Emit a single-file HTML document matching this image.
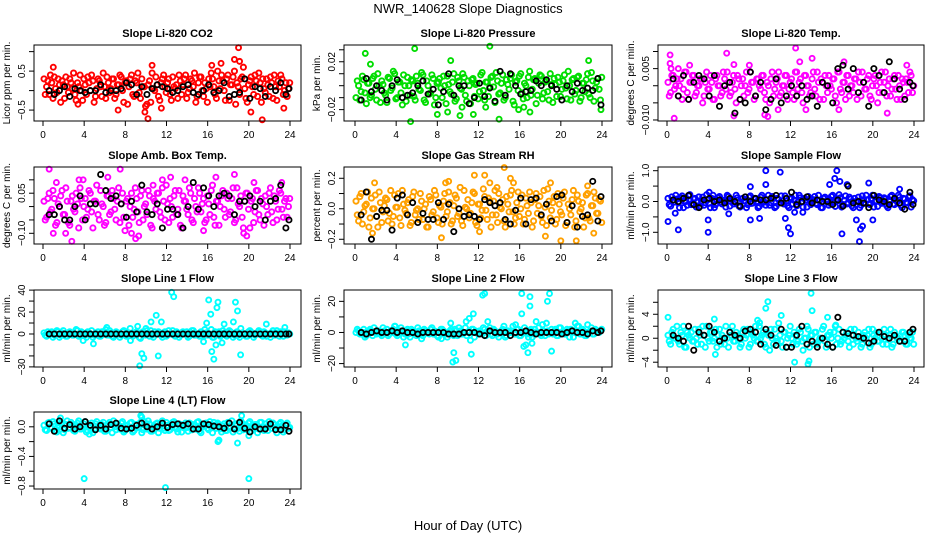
<!DOCTYPE html>
<html><head><meta charset="utf-8"><style>
body{margin:0;background:#fff;}
svg{display:block;font-family:"Liberation Sans",sans-serif;}
</style></head><body>
<svg id="chart" width="936" height="540" viewBox="0 0 936 540">
<text x="468" y="13" text-anchor="middle" font-size="13">NWR_140628  Slope Diagnostics</text>
<text x="468" y="530" text-anchor="middle" font-size="13">Hour of Day (UTC)</text>
</svg>
<script>
const hoursA = [0.1,0.35,0.6,0.85,1.1,1.35,1.6,1.85,2.1,2.35,2.6,2.85,3.1,3.35,3.6,3.85,4.1,4.35,4.6,4.85,5.1,5.35,5.6,5.85,6.1,6.35,6.6,6.85,7.1,7.35,7.6,7.85,8.1,8.35,8.6,8.85,9.1,9.35,9.6,9.85,10.1,10.35,10.6,10.85,11.1,11.35,11.6,11.85,12.1,12.35,12.6,12.85,13.1,13.35,13.6,13.85,14.1,14.35,14.6,14.85,15.1,15.35,15.6,15.85,16.1,16.35,16.6,16.85,17.1,17.35,17.6,17.85,18.1,18.35,18.6,18.85,19.1,19.35,19.6,19.85,20.1,20.35,20.6,20.85,21.1,21.35,21.6,21.85,22.1,22.35,22.6,22.85,23.1,23.35,23.6,23.85];
const hoursBlack = [0.6,1.1,1.6,2.1,2.6,3.1,3.6,4.1,4.6,5.1,5.6,6.1,6.6,7.1,7.6,8.1,8.6,9.1,9.6,10.1,10.6,11.1,11.6,12.1,12.6,13.1,13.6,14.1,14.6,15.1,15.6,16.1,16.6,17.1,17.6,18.1,18.6,19.1,19.6,20.1,20.6,21.1,21.6,22.1,22.6,23.1,23.6,23.9];
const xTicks = [0,4,8,12,16,20,24];

const co2A = [0.3,0.1,-0.1,0.2,0.35,-0.05,0.15,0.25,-0.2,0.1,0.3,0.05,-0.1,0.2,0.4,-0.25,0.15,0.35,0.0,0.25,-0.15,0.3,0.1,0.45,-0.2,0.2,0.05,0.3,-0.1,0.15,0.35,-0.3,0.25,0.1,0.4,-0.15,0.2,-0.05,0.3,0.1,-0.35,0.25,0.45,0.0,0.15,-0.25,0.3,0.1,0.2,-0.1,0.35,0.05,-0.2,0.25,0.15,0.4,-0.05,0.3,0.1,-0.3,0.2,0.35,-0.15,0.05,0.3,0.45,0.1,-0.2,0.25,0.4,0.0,0.3,-0.25,0.15,0.5,0.2,-0.1,0.35,0.05,-0.3,0.25,0.1,0.4,-0.15,0.2,0.3,-0.05,0.15,0.35,-0.2,0.1,0.25,0.4,-0.1,0.2,0.05];
const co2B = [-0.1,0.25,0.4,-0.2,0.05,0.3,-0.3,0.15,0.35,-0.05,0.2,0.45,-0.25,0.1,0.0,0.3,-0.1,0.2,0.4,-0.3,0.05,0.25,-0.15,0.1,0.35,-0.05,0.3,-0.2,0.15,0.4,0.0,0.2,-0.35,0.3,-0.1,0.25,0.45,-0.2,0.1,-0.4,0.15,-0.3,0.05,0.35,-0.15,0.2,0.4,-0.05,0.3,-0.25,0.1,0.15,0.4,-0.1,0.3,-0.2,0.05,0.25,0.45,-0.15,0.35,0.0,0.2,-0.3,0.1,0.3,-0.1,0.5,0.05,0.25,-0.25,0.4,0.15,0.35,-0.35,0.1,0.3,0.6,-0.2,0.15,0.35,-0.1,0.25,0.45,-0.3,0.05,0.3,-0.15,0.2,0.4,-0.25,0.1,0.3,0.0,-0.15,0.2];
const co2OutX = [1.0,3.4,7.3,9.9,10.2,10.6,11.5,16.4,17.3,18.6,19.0,19.1,20.2,21.3,23.4];
const co2OutY = [0.6,-0.35,-0.5,-0.55,-0.72,0.65,-0.45,0.65,0.7,0.8,1.1,0.75,-0.55,-0.75,-0.45];
const co2Black = [0.0,-0.1,0.0,0.1,-0.15,0.05,0.0,-0.05,0.0,0.0,0.15,-0.05,0.0,0.0,0.05,0.2,0.15,-0.1,0.1,-0.1,0.05,0.15,0.1,0.05,-0.05,0.0,0.1,0.15,-0.05,-0.1,0.0,0.15,-0.05,0.0,0.2,-0.15,-0.1,-0.05,0.3,-0.2,0.1,0.05,-0.15,0.1,0.0,0.2,-0.1,0.05];

const presA = [-0.01,0.0,-0.005,0.005,-0.015,0.002,-0.008,0.008,-0.012,0.0,0.004,-0.006,-0.014,0.006,-0.002,0.01,-0.01,0.003,-0.016,0.0,0.007,-0.008,0.004,-0.012,0.002,-0.004,0.009,-0.014,0.0,-0.006,0.006,-0.01,0.003,-0.002,0.008,-0.015,0.001,-0.007,0.01,-0.011,0.004,-0.003,0.007,-0.013,0.0,0.005,-0.009,0.002,-0.005,0.011,-0.012,0.003,-0.001,0.008,-0.014,0.004,-0.006,0.009,-0.01,0.001,0.006,-0.013,0.003,-0.004,0.01,-0.011,0.0,0.007,-0.008,0.005,-0.015,0.002,0.008,-0.006,0.004,-0.012,0.001,0.006,-0.009,0.003,-0.003,0.009,-0.011,0.0,0.005,-0.007,0.007,-0.013,0.002,-0.005,0.01,-0.01,0.004,-0.002,0.006,-0.012];
const presB = [0.004,-0.012,0.008,-0.006,0.002,-0.01,0.006,-0.003,0.01,-0.014,0.001,-0.008,0.007,-0.004,0.012,-0.011,0.003,-0.006,0.009,-0.013,0.0,0.005,-0.009,0.008,-0.003,0.011,-0.012,0.004,-0.007,0.009,-0.016,0.002,0.006,-0.01,0.0,0.008,-0.005,0.003,-0.013,0.007,-0.002,0.01,-0.008,0.004,-0.015,0.006,0.001,-0.011,0.009,-0.004,0.003,-0.009,0.007,-0.001,0.011,-0.007,0.002,-0.012,0.005,-0.003,0.009,-0.016,0.004,0.008,-0.006,0.002,-0.01,0.012,-0.003,0.006,-0.008,0.009,-0.011,0.003,-0.005,0.01,-0.014,0.001,0.007,-0.009,0.004,-0.002,0.012,-0.012,0.006,-0.004,0.008,-0.01,0.002,0.005,-0.007,0.011,-0.013,0.003,-0.003,0.007];
const presOutX = [1.0,1.5,5.4,5.8,8.0,9.0,9.3,10.2,10.4,11.5,12.7,13.1,14.0,15.9,16.4,17.0,22.7,23.9];
const presOutY = [0.027,0.018,-0.03,0.031,-0.024,-0.022,0.021,-0.025,-0.018,-0.024,-0.018,0.033,-0.028,-0.02,-0.018,-0.022,0.021,-0.02];
const presBlack = [-0.012,0.006,-0.005,0.0,-0.004,-0.012,0.0,0.005,-0.01,-0.008,-0.006,0.0,0.004,-0.007,-0.003,-0.016,-0.005,0.01,-0.008,0.0,0.0,-0.015,-0.01,0.002,-0.009,-0.002,-0.013,0.012,-0.008,0.01,0.0,-0.007,-0.005,-0.004,0.004,0.0,0.005,0.0,-0.003,-0.012,0.0,-0.005,0.002,-0.004,-0.002,-0.004,0.006,-0.016];

const tempA = [0.001,-0.002,0.003,0.0,-0.003,0.002,-0.001,0.004,-0.004,0.001,0.003,-0.002,0.0,0.002,-0.003,0.004,-0.001,0.001,-0.004,0.003,0.0,-0.002,0.002,0.004,-0.003,0.001,-0.001,0.003,-0.004,0.002,0.0,-0.002,0.004,0.001,-0.003,0.002,-0.001,0.003,-0.004,0.0,0.002,-0.003,0.001,0.004,-0.002,0.0,0.003,-0.001,0.002,-0.004,0.004,0.001,-0.002,0.003,0.0,-0.003,0.002,-0.001,0.004,-0.004,0.001,0.003,-0.002,0.0,0.002,-0.003,0.004,-0.001,0.001,-0.004,0.003,0.0,-0.002,0.002,0.004,-0.003,0.001,-0.001,0.003,-0.004,0.002,0.0,-0.002,0.004,0.001,-0.003,0.002,-0.001,0.003,-0.004,0.0,0.002,-0.003,0.001,0.004,-0.002];
const tempB = [-0.003,0.003,-0.001,0.002,0.0,-0.004,0.004,-0.002,0.001,0.003,-0.003,0.0,0.002,-0.005,0.001,-0.001,0.003,-0.004,0.002,0.0,-0.003,0.004,-0.001,0.001,-0.002,0.003,-0.005,0.002,0.0,-0.003,0.004,-0.001,0.001,-0.004,0.002,0.0,0.003,-0.002,0.001,-0.005,0.004,-0.001,0.002,-0.003,0.0,0.003,-0.004,0.001,-0.002,0.004,-0.001,0.002,-0.005,0.003,0.0,-0.002,0.004,-0.003,0.001,0.002,-0.004,0.0,0.003,-0.001,0.002,-0.005,0.004,-0.002,0.001,0.003,-0.003,0.0,0.002,-0.004,0.001,0.004,-0.001,0.002,-0.003,0.0,0.003,-0.005,0.001,-0.002,0.004,0.0,-0.003,0.002,-0.001,0.003,-0.004,0.001,0.002,-0.002,0.003,0.0];
const tempOutX = [0.3,0.3,0.4,0.7,1.1,5.8,6.5,6.5,8.0,9.5,9.8,12.5,12.9,13.5,14.1,16.7,17.2,21.4,23.3,2.2,10.8];
const tempOutY = [0.009,0.0065,0.005,-0.0095,0.005,0.0095,0.0062,-0.0088,0.006,-0.0085,-0.009,0.011,0.007,-0.007,0.008,-0.007,0.007,-0.008,0.006,0.006,-0.007];
const tempBlack = [0.002,-0.003,0.003,-0.004,0.001,0.003,0.002,-0.003,0.003,-0.006,0.0,0.001,-0.008,-0.004,-0.005,0.004,-0.003,0.001,-0.007,-0.004,0.002,-0.005,-0.003,0.0,-0.003,0.0,-0.004,-0.003,-0.006,0.001,0.0,-0.005,0.005,0.006,-0.001,0.005,-0.002,0.001,-0.006,0.005,0.003,-0.002,0.007,0.002,-0.001,-0.004,0.001,0.0];

const ambA = [0.02,-0.04,0.05,-0.01,0.03,-0.06,0.0,0.06,-0.03,0.02,-0.07,0.04,-0.02,0.01,0.07,-0.05,0.03,-0.01,0.05,-0.08,0.02,-0.03,0.06,0.0,-0.06,0.04,-0.02,0.03,-0.05,0.07,0.01,-0.04,0.02,-0.07,0.05,-0.01,0.03,-0.06,0.06,0.0,-0.03,0.04,-0.08,0.02,0.05,-0.02,0.07,-0.05,0.01,0.03,-0.04,0.06,-0.01,-0.07,0.04,0.02,-0.03,0.05,-0.06,0.0,0.07,-0.02,0.03,-0.05,0.01,0.06,-0.04,0.02,-0.07,0.04,-0.01,0.05,-0.03,0.03,-0.06,0.07,0.0,-0.04,0.02,0.05,-0.08,0.03,-0.02,0.06,-0.05,0.01,0.04,-0.03,0.07,-0.06,0.02,-0.01,0.05,-0.04,0.03,0.0];
const ambB = [-0.05,0.03,-0.02,0.06,-0.07,0.01,0.04,-0.03,0.07,-0.06,0.02,-0.01,0.05,-0.08,0.03,0.0,-0.04,0.06,-0.02,0.02,0.08,-0.05,0.01,-0.07,0.04,-0.03,0.06,-0.01,0.02,-0.06,0.05,-0.09,0.03,0.0,-0.04,0.07,-0.02,0.04,-0.05,0.01,0.06,-0.07,0.03,-0.01,0.05,-0.04,0.02,0.08,-0.06,0.0,0.04,-0.03,0.06,-0.08,0.02,-0.01,0.07,-0.05,0.03,-0.02,0.05,0.01,-0.06,0.04,-0.03,0.08,-0.07,0.02,0.0,0.06,-0.04,0.03,-0.02,0.07,-0.05,0.01,0.04,-0.08,0.05,-0.01,0.02,-0.06,0.06,-0.03,0.03,-0.07,0.0,0.05,-0.02,0.04,-0.05,0.06,-0.01,0.02,-0.04,0.03];
const ambOutX = [0.6,1.0,1.3,2.2,2.8,3.5,3.9,6.3,7.5,8.6,9.0,9.3,10.7,11.6,12.4,13.8,15.6,16.8,18.6,19.5,19.8,20.5,23.2];
const ambOutY = [0.14,-0.1,0.09,-0.1,-0.13,0.1,0.1,0.11,0.14,-0.1,-0.12,-0.11,0.08,0.1,0.11,0.1,-0.09,0.11,0.12,-0.1,-0.11,0.09,0.09];
const ambBlack = [-0.03,-0.03,0.0,-0.05,-0.05,0.0,0.04,-0.05,0.01,0.01,0.12,0.06,0.03,0.04,0.01,-0.04,0.02,-0.02,0.08,-0.02,-0.03,0.01,-0.08,-0.01,-0.01,-0.03,-0.08,0.0,0.09,-0.01,0.07,0.04,0.0,0.04,0.05,0.04,-0.03,0.02,0.02,0.04,0.0,0.02,-0.05,0.02,0.03,0.08,-0.08,-0.05];

const rhA = [0.05,-0.08,0.1,-0.02,0.03,-0.12,0.07,0.0,-0.05,0.11,-0.09,0.02,0.06,-0.03,-0.1,0.09,0.01,-0.06,0.12,-0.01,0.04,-0.11,0.08,-0.04,0.0,0.1,-0.07,0.03,-0.12,0.06,-0.02,0.09,-0.09,0.01,0.05,-0.05,0.11,-0.1,0.02,0.07,-0.03,-0.08,0.12,0.0,-0.06,0.04,0.1,-0.11,0.03,-0.01,0.08,-0.07,0.05,-0.04,0.12,-0.09,0.01,0.06,-0.12,0.03,0.09,-0.02,-0.06,0.11,0.0,-0.1,0.07,-0.03,0.04,-0.08,0.1,0.02,-0.05,0.12,-0.11,0.05,-0.01,0.08,-0.07,0.03,-0.04,0.11,-0.09,0.0,0.06,-0.12,0.09,-0.02,0.04,-0.06,0.1,-0.08,0.02,0.07,-0.03,0.05];
const rhB = [-0.04,0.08,-0.1,0.02,0.11,-0.06,0.0,0.09,-0.12,0.04,-0.02,0.07,-0.08,0.12,-0.05,0.01,0.1,-0.11,0.03,-0.03,0.06,-0.09,0.11,-0.01,-0.07,0.05,0.0,-0.12,0.08,-0.04,0.12,-0.06,0.02,-0.1,0.1,-0.02,0.04,-0.08,0.09,-0.05,0.14,-0.11,0.01,0.06,-0.03,0.11,-0.09,0.03,-0.06,0.13,-0.01,0.07,-0.12,0.05,-0.04,0.1,0.0,-0.08,0.08,-0.02,0.12,-0.1,0.04,-0.05,0.09,-0.07,0.02,0.11,-0.12,0.06,-0.03,0.08,-0.09,0.01,0.13,-0.06,0.04,-0.1,0.1,-0.02,0.07,-0.11,0.03,-0.04,0.12,-0.08,0.05,0.0,-0.12,0.09,-0.06,0.02,0.11,-0.03,0.06,-0.09];
const rhOutX = [1.7,1.9,8.4,8.8,9.1,11.6,12.1,12.6,13.1,13.8,14.5,15.1,15.4,18.5,19.0,20.0,21.5,22.6,23.2];
const rhOutY = [-0.16,0.17,-0.19,0.17,0.18,0.22,-0.15,0.22,0.17,0.14,0.27,0.2,0.17,-0.18,0.17,-0.21,-0.21,0.15,-0.16];
const rhBlack = [-0.04,0.11,-0.2,-0.05,-0.01,-0.01,-0.14,0.07,0.09,-0.04,0.04,-0.09,-0.03,-0.07,-0.07,0.04,-0.07,0.03,-0.15,0.0,-0.05,-0.04,-0.05,-0.07,0.06,0.04,0.02,0.04,-0.07,-0.1,-0.01,0.07,-0.1,0.06,0.07,-0.04,0.03,-0.08,0.08,0.09,-0.09,0.02,-0.12,-0.05,-0.04,0.18,-0.08,0.08];

const sampA = [0.1,-0.15,0.05,0.2,-0.05,0.12,-0.2,0.0,0.18,-0.1,0.08,-0.18,0.15,0.02,-0.12,0.22,-0.06,0.1,-0.2,0.04,0.16,-0.08,0.0,0.2,-0.15,0.06,-0.02,0.12,-0.18,0.1,0.02,-0.1,0.18,-0.05,0.08,-0.2,0.14,0.0,-0.12,0.2,-0.04,0.1,-0.16,0.06,0.18,-0.08,0.02,-0.2,0.12,0.04,-0.14,0.2,-0.02,0.1,-0.18,0.08,0.0,0.16,-0.1,0.04,-0.2,0.14,0.06,-0.06,0.2,-0.16,0.02,0.12,-0.1,0.18,-0.04,0.08,-0.2,0.0,0.14,-0.12,0.06,0.2,-0.08,0.1,-0.18,0.02,0.16,-0.06,0.12,-0.14,0.04,0.2,-0.1,0.0,0.14,-0.2,0.08,-0.04,0.18,0.06];
const sampB = [-0.1,0.15,-0.02,0.08,-0.2,0.18,0.0,-0.12,0.22,-0.06,0.1,0.02,-0.16,0.14,-0.04,0.06,-0.2,0.2,-0.1,0.12,-0.02,0.04,-0.18,0.16,0.0,-0.08,0.2,-0.14,0.08,0.02,-0.2,0.14,-0.06,0.1,0.0,-0.16,0.2,-0.02,0.06,-0.12,0.16,-0.2,0.1,-0.04,0.02,0.18,-0.14,0.08,-0.08,0.2,-0.02,0.12,-0.18,0.04,0.16,-0.1,0.06,-0.06,0.2,-0.2,0.1,0.0,-0.12,0.16,-0.04,0.08,0.22,-0.18,0.04,-0.08,0.14,-0.14,0.1,0.02,-0.2,0.18,-0.06,0.06,-0.1,0.2,0.0,-0.16,0.12,-0.02,0.08,-0.2,0.16,-0.08,0.04,0.2,-0.12,0.1,-0.04,0.14,-0.18,0.02];
const sampOutX = [0.1,0.8,1.1,4.0,4.0,4.1,6.0,8.1,8.1,9.0,9.6,9.6,11.0,11.5,11.8,12.0,12.4,13.2,15.8,16.3,16.5,16.8,17.0,17.5,18.4,18.7,18.8,19.0,19.6,20.0,22.6];
const sampOutY = [-0.65,-0.38,-0.92,-0.6,-1.0,0.3,-0.4,0.48,-0.6,-0.55,1.0,0.55,0.95,-0.55,-0.85,-1.05,-0.35,-0.35,0.55,0.75,1.0,0.65,-1.05,0.55,-0.6,-1.3,-0.9,-0.8,0.6,-0.6,0.4];
const sampBlack = [0.05,0.0,0.1,0.2,-0.1,-0.2,0.05,0.1,0.0,0.05,-0.05,0.1,0.0,-0.15,0.15,0.0,0.1,0.05,0.05,0.1,0.2,-0.05,0.1,0.3,-0.1,0.0,0.15,-0.05,0.05,0.0,0.0,-0.1,0.05,-0.15,0.5,-0.05,0.0,-0.05,-0.2,0.2,0.05,0.0,-0.1,0.1,-0.05,-0.25,0.3,-0.1];

const l1A = [1,-2,0,2,-1,3,-3,1,0,-2,2,-1,0,3,-2,1,-1,2,0,-3,1,2,-2,0,4,-1,1,-3,2,0,-1,3,-2,1,0,-1,2,-3,1,0,3,-2,-1,2,0,1,-3,2,-1,0,3,-2,1,-1,2,0,-3,1,3,-1,0,2,-2,1,-1,4,-3,0,2,-1,1,-2,3,0,-1,2,-3,1,0,-2,3,1,-1,0,2,-2,1,0,-3,3,-1,1,2,-2,0,1];
const l1B = [-1,2,1,-3,0,2,-1,3,-2,0,1,-1,4,-2,2,0,-3,1,3,-1,0,-2,2,1,-1,3,-2,0,1,-3,2,0,-1,5,-2,1,0,-4,2,-1,1,3,-3,0,2,-1,1,-2,3,0,-1,2,-3,1,0,2,-2,3,-1,0,-2,1,4,-1,0,-3,2,1,-2,3,0,-1,2,-3,1,-1,5,0,-2,2,1,-3,0,3,-1,2,-2,0,1,-1,3,-2,0,2,-1,0];
const l1OutX = [3.9,4.9,6.2,8.5,9.2,9.4,9.6,9.8,10.0,10.5,11.0,11.2,11.5,12.5,12.7,15.6,15.9,16.1,16.3,16.4,16.6,16.8,16.9,17.0,17.4,17.6,18.5,18.7,18.9,19.2,21.7,23.5];
const l1OutY = [-6,-9,6,-6,7,-29,-18,-22,5,11,17,-20,11,38,34,-7,10,31,18,-16,-23,-10,24,29,-8,9,11,29,21,-19,9,6];
const l1Black = [0,0,0,0,0,0,0,0,0,0,0,0,0,0,0,0,0,0,0,0,0,0,0,0,0,0,0,0,0,0,0,0,0,0,0,0,0,0,0,0,0,0,0,0,0,0,0,0];

const l2A = [0,1,-1,2,-2,0,1,3,-1,0,-2,1,2,-1,0,4,-2,1,0,-1,2,-3,1,0,3,-1,-2,1,0,2,-1,0,-3,2,1,-1,0,2,-2,1,3,-1,0,-2,1,2,-3,0,1,-1,2,0,3,-2,1,-1,0,2,-3,1,0,4,-1,2,-2,0,1,-3,2,-1,0,3,-2,1,0,-1,2,1,-2,3,0,-1,2,-3,1,0,4,-1,2,-2,0,1,-1,2,0,1];
const l2B = [2,-1,0,-3,1,2,-2,0,1,-1,3,0,-2,1,2,-1,0,3,-3,1,-1,2,0,-2,1,-4,2,0,-1,3,1,-2,0,2,-1,-3,1,0,2,-2,1,-1,3,0,-5,2,1,-1,0,3,-2,1,-1,2,0,-3,1,4,-2,0,1,-1,2,-2,0,3,-1,1,-3,2,0,-1,5,-2,1,0,-1,2,-2,3,0,-1,1,2,-3,0,4,-1,1,-2,0,3,-1,1,0,2];
const l2OutX = [3.9,4.9,8.4,9.3,9.5,9.6,9.8,10.8,11.1,11.3,11.5,12.4,12.6,12.9,15.6,16.2,16.2,16.4,16.6,16.8,17.0,17.0,17.2,17.6,18.6,18.7,18.9,19.1,21.4,22.6];
const l2OutY = [4,-8,-4,6,-19,-13,-18,7,9,-14,12,24,25,7,5,25,12,-9,-8,-13,23,17,-7,7,6,20,25,-12,6,5];
const l2Black = [0,-1,0,1,0,0,1,0,1,0,0,-1,0,0,0,0,0,-1,-1,-1,0,0,0,-1,-2,1,0,0,0,-2,0,0,1,0,-1,0,0,0,0,-1,0,1,0,0,-1,1,0,1];

const l3A = [0.5,-1,1.5,0,-0.5,1,2,-1.5,0.5,1,-0.5,0,1.5,-1,0.5,2,-0.5,1,0,-1.5,1.5,0.5,-1,0,1,2,-0.5,0.5,-1.5,1,0,1.5,-1,0.5,2,-0.5,0,1,-1.5,0.5,1.5,-1,0,2.5,-0.5,1,-1.5,0.5,0,1,-1,1.5,-0.5,0,2,-1.5,0.5,1,-1,0,1.5,-0.5,0.5,1,-1.5,2,0,-1,1,0.5,-0.5,1.5,-1,0,1,-1.5,0.5,0,1.5,-1,0.5,1,-0.5,0,1.5,-1,0.5,-1.5,1,0,-0.5,1,0.5,-1,0,1];
const l3B = [-0.5,1,0,2,-1,0.5,-1.5,1,0,-0.5,1.5,-1,0.5,2,-1.5,0,1,-0.5,1.5,0.5,-1,0,2,-1.5,0.5,-0.5,1,0,-1,1.5,0.5,-1.5,1,0,-0.5,2,0.5,-1,1,-2,0,1.5,-0.5,0.5,-1.5,1,0,2,-1,0.5,-0.5,1,-2,0,1.5,0.5,-1,1,-0.5,0,2,-1.5,0.5,0,1,-1,1.5,-0.5,0,1,-1.5,0.5,1.5,-0.5,0,-1,1,0.5,-1.5,1.5,0,-0.5,1,-1,0.5,0,1.5,-1,0.5,0,-0.5,1,-1,0.5,0,-1];
const l3OutX = [0.1,4.7,4.6,8.8,9.0,9.6,9.8,11.1,12.4,13.7,13.8,14.0,14.1,15.6,16.4];
const l3OutY = [3.5,-2.7,3.2,3,2.6,5,6.1,3.8,-4,-4.3,-3.8,7.5,4.6,3.5,2.2];
const l3Black = [0.5,0,-0.5,2,-2,1,0.5,2,1,-0.5,0,1,0.5,0,1.2,1.5,1,-1,1.5,0.5,-1.2,1.5,-1.5,-1.5,0.5,2,-1,-0.5,-1.5,0,-1,-1.5,3.5,1,0.8,0.5,0.3,0,-0.8,-0.5,1,0.3,0,0.5,-0.5,-0.5,1,1.5];

const l4A = [0.02,-0.05,0.06,-0.02,0.04,-0.07,0.0,0.05,-0.04,0.08,-0.01,0.03,-0.06,0.05,-0.03,0.01,0.07,-0.05,0.02,-0.08,0.04,0.0,-0.03,0.06,-0.06,0.03,-0.01,0.08,-0.04,0.01,0.05,-0.07,0.02,-0.02,0.06,-0.05,0.03,0.0,-0.08,0.07,-0.03,0.04,-0.06,0.01,0.05,-0.02,0.08,-0.05,0.02,-0.04,0.06,0.0,-0.07,0.03,-0.01,0.05,-0.06,0.04,0.01,-0.03,0.07,-0.08,0.02,0.05,-0.04,0.0,0.06,-0.02,0.03,-0.07,0.04,-0.05,0.01,0.08,-0.03,0.02,-0.06,0.05,0.0,-0.04,0.07,-0.02,0.03,-0.08,0.06,-0.01,0.04,-0.05,0.02,0.05,-0.03,0.0,0.06,-0.07,0.03,-0.02];
const l4B = [-0.04,0.05,-0.01,0.07,-0.06,0.02,0.04,-0.08,0.03,-0.02,0.06,-0.05,0.0,0.08,-0.03,0.04,-0.07,0.01,0.05,-0.04,0.07,-0.02,0.03,-0.06,0.02,0.06,-0.08,0.0,0.04,-0.03,0.07,-0.05,0.01,0.05,-0.07,0.03,-0.01,0.06,-0.04,0.02,0.08,-0.06,0.0,0.04,-0.08,0.03,-0.02,0.06,-0.05,0.01,0.07,-0.03,0.04,-0.07,0.02,-0.01,0.05,-0.04,0.03,0.06,-0.06,0.0,0.04,-0.02,0.07,-0.08,0.02,0.05,-0.03,0.01,-0.05,0.06,0.0,-0.07,0.04,-0.02,0.08,-0.04,0.02,0.05,-0.06,0.01,0.03,-0.03,0.06,-0.05,0.0,0.07,-0.02,0.03,-0.08,0.04,0.01,-0.04,0.05,-0.01];
const l4OutX = [1.7,4.0,4.5,9.5,9.6,11.9,17.0,17.1,18.9,19.3,20.0,20.0];
const l4OutY = [0.12,-0.7,-0.1,0.15,0.13,-0.82,-0.2,-0.18,-0.22,0.15,-0.7,-0.12];
const l4Black = [0.04,-0.06,0.08,-0.02,0.03,-0.03,0.0,0.07,0.02,-0.04,0.02,-0.03,0.03,0.05,-0.02,-0.03,-0.02,0.02,0.05,0.0,-0.03,0.0,0.05,-0.01,0.03,0.04,0.02,0.04,-0.03,-0.03,0.04,0.03,0.01,0.0,-0.02,0.05,-0.03,0.06,-0.02,-0.07,0.0,-0.03,-0.03,0.04,-0.04,-0.04,0.02,-0.06];

const svg = document.getElementById('chart');
const NS = 'http://www.w3.org/2000/svg';
const colBox = [[34,301,43,290],[344,612,355,602],[658,924,667,914]];
const rowBox = [[45,121],[167,244],[290,367],[412,489]];

const panels = [
 {id:'co2',title:'Slope Li-820 CO2',ylab:'Licor ppm per min.',c:0,r:0,top:1.17,bot:-0.78,ticks:[-0.5,0,0.5,1],labels:{'-0.5':'\u22120.5','0.5':'0.5'},color:'#ff0000',A:co2A,B:co2B,ox:co2OutX,oy:co2OutY,k:co2Black},
 {id:'pressure',title:'Slope Li-820 Pressure',ylab:'kPa per min.',c:1,r:0,top:0.034,bot:-0.0295,ticks:[-0.02,-0.01,0,0.01,0.02,0.03],labels:{'-0.02':'\u22120.02','0.02':'0.02'},color:'#00dd00',A:presA,B:presB,ox:presOutX,oy:presOutY,k:presBlack},
 {id:'temp',title:'Slope Li-820 Temp.',ylab:'degrees C per min.',c:2,r:0,top:0.0119,bot:-0.0103,ticks:[-0.01,-0.005,0,0.005,0.01],labels:{'-0.01':'\u22120.010','0.005':'0.005'},color:'#ff00ff',A:tempA,B:tempB,ox:tempOutX,oy:tempOutY,k:tempBlack},
 {id:'amb-box-temp',title:'Slope Amb. Box Temp.',ylab:'degrees C per min.',c:0,r:1,top:0.148,bot:-0.14,ticks:[-0.1,-0.05,0,0.05,0.1],labels:{'-0.1':'\u22120.10','0.05':'0.05'},color:'#ff00ff',A:ambA,B:ambB,ox:ambOutX,oy:ambOutY,k:ambBlack},
 {id:'gas-stream-rh',title:'Slope Gas Stream RH',ylab:'percent per min.',c:1,r:1,top:0.274,bot:-0.231,ticks:[-0.2,-0.1,0,0.1,0.2],labels:{'-0.2':'\u22120.2','0':'0.0','0.2':'0.2'},color:'#ffa000',A:rhA,B:rhB,ox:rhOutX,oy:rhOutY,k:rhBlack},
 {id:'sample-flow',title:'Slope Sample Flow',ylab:'ml/min per min.',c:2,r:1,top:1.12,bot:-1.38,ticks:[-1,-0.5,0,0.5,1],labels:{'-1':'\u22121.0','0':'0.0','1':'1.0'},color:'#0000ff',A:sampA,B:sampB,ox:sampOutX,oy:sampOutY,k:sampBlack},
 {id:'line1-flow',title:'Slope Line 1 Flow',ylab:'ml/min per min.',c:0,r:2,top:40.1,bot:-30.1,ticks:[-30,-20,-10,0,10,20,30,40],labels:{'-30':'\u221230','0':'0','20':'20','40':'40'},color:'#00ffff',A:l1A,B:l1B,ox:l1OutX,oy:l1OutY,k:l1Black},
 {id:'line2-flow',title:'Slope Line 2 Flow',ylab:'ml/min per min.',c:1,r:2,top:27.3,bot:-22.2,ticks:[-20,-10,0,10,20],labels:{'-20':'\u221220','0':'0','20':'20'},color:'#00ffff',A:l2A,B:l2B,ox:l2OutX,oy:l2OutY,k:l2Black},
 {id:'line3-flow',title:'Slope Line 3 Flow',ylab:'ml/min per min.',c:2,r:2,top:8.05,bot:-4.8,ticks:[-4,-2,0,2,4,6],labels:{'-4':'\u22124','0':'0','4':'4'},color:'#00ffff',A:l3A,B:l3B,ox:l3OutX,oy:l3OutY,k:l3Black},
 {id:'line4-flow',title:'Slope Line 4 (LT) Flow',ylab:'ml/min per min.',c:0,r:3,top:0.2,bot:-0.84,ticks:[-0.8,-0.6,-0.4,-0.2,0],labels:{'-0.8':'\u22120.8','-0.4':'\u22120.4','0':'0.0'},color:'#00ffff',A:l4A,B:l4B,ox:l4OutX,oy:l4OutY,k:l4Black}
];

function mk(tag, attrs, parent){
  const e = document.createElementNS(NS, tag);
  for (const a in attrs) e.setAttribute(a, attrs[a]);
  parent.appendChild(e);
  return e;
}

panels.forEach(p => {
  const [bl, br, x0, x24] = colBox[p.c];
  const [bt, bb] = rowBox[p.r];
  const xs = h => x0 + (x24 - x0) * h / 24;
  const ys = v => bt + (p.top - v) / (p.top - p.bot) * (bb - bt);
  const g = mk('g', {}, svg);
  
  

  const t = mk('text', {x:(bl+br)/2, y:bt-8, 'text-anchor':'middle', 'font-size':'11', 'font-weight':'bold'}, g);
  t.textContent = p.title;
  
  

  const yl = mk('text', {x:0, y:0, 'text-anchor':'middle', 'font-size':'10', transform:'translate(' + (bl-24) + ',' + ((bt+bb)/2) + ') rotate(-90)'}, g);
  yl.textContent = p.ylab;
  
  

  const xa = mk('g', {}, g);
  
  
  mk('line', {x1:xs(0), x2:xs(24), y1:bb, y2:bb, stroke:'#000'}, xa);
  xTicks.forEach(v => {
    mk('line', {x1:xs(v), x2:xs(v), y1:bb, y2:bb+5, stroke:'#000'}, xa);
    const tl = mk('text', {x:xs(v), y:bb+17, 'text-anchor':'middle', 'font-size':'10'}, xa);
    tl.textContent = String(v);
    
    
  });

  const ya = mk('g', {}, g);
  
  
  mk('line', {x1:bl, x2:bl, y1:ys(p.ticks[0]), y2:ys(p.ticks[p.ticks.length-1]), stroke:'#000'}, ya);
  p.ticks.forEach(v => {
    mk('line', {x1:bl-5, x2:bl, y1:ys(v), y2:ys(v), stroke:'#000'}, ya);
    const key = String(v);
    if (p.labels[key] !== undefined) {
      const tl = mk('text', {x:0, y:0, 'text-anchor':'middle', 'font-size':'10', transform:'translate(' + (bl-9) + ',' + ys(v) + ') rotate(-90)'}, ya);
      tl.textContent = p.labels[key];
      
      
    }
  });

  const pts = mk('g', {fill:'none', stroke:p.color, 'stroke-width':'1.9'}, g);
  
  
  const n = Math.min(hoursA.length, p.A.length, p.B.length);
  for (let i = 0; i < n; i++) {
    const c1 = mk('circle', {cx:xs(hoursA[i]), cy:ys(p.A[i]), r:2.6}, pts);
    
    
    const c2 = mk('circle', {cx:xs(hoursA[i]+0.12), cy:ys(p.B[i]), r:2.6}, pts);
    
    
  }
  for (let i = 0; i < Math.min(p.ox.length, p.oy.length); i++) {
    const c = mk('circle', {cx:xs(p.ox[i]), cy:ys(p.oy[i]), r:2.5}, pts);
    
    
  }
  const bk = mk('g', {fill:'none', stroke:'#000', 'stroke-width':'1.8'}, g);
  
  
  for (let i = 0; i < Math.min(hoursBlack.length, p.k.length); i++) {
    const c = mk('circle', {cx:xs(hoursBlack[i]), cy:ys(p.k[i]), r:2.6}, bk);
    
    
  }

  const box = mk('rect', {x:bl, y:bt, width:br-bl, height:bb-bt, fill:'none', stroke:'#000'}, g);
  
  
});
</script>
</body></html>
